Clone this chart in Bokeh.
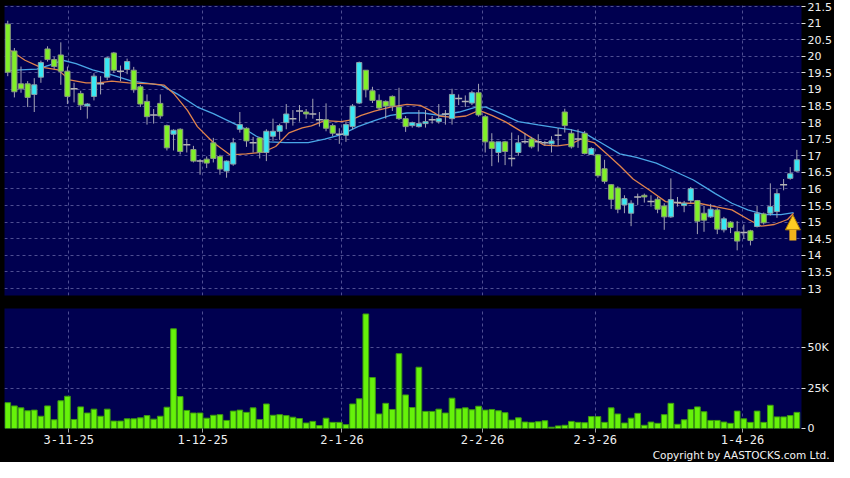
import numpy as np
from bokeh.plotting import figure
from bokeh.layouts import column
from bokeh.models import (Range1d, FixedTicker, NumeralTickFormatter, Grid, Title,
                          Arrow, NormalHead, ColumnDataSource)
from bokeh.embed import file_html
from bokeh.resources import INLINE

# ---------------- data ----------------
opens = [20.97, 20.16, 19.17, 19.17, 18.85, 19.37, 20.22, 19.90, 20.04, 19.55,
         19.02, 18.88, 18.50, 18.79, 19.17, 19.37, 20.10, 19.55, 19.60, 19.58,
         19.08, 18.64, 18.23, 18.58, 17.91, 17.65, 17.80, 17.33, 17.19, 16.84,
         16.90, 17.39, 16.98, 16.54, 16.75, 17.80, 17.83, 17.39, 17.54, 17.10,
         17.59, 17.74, 18.00, 18.12, 18.35, 18.32, 18.26, 18.09, 18.09, 17.91,
         17.65, 17.62, 17.88, 18.59, 19.58, 18.96, 18.67, 18.64, 18.79, 18.47,
         18.12, 17.91, 17.88, 17.97, 18.09, 18.03, 18.26, 18.12, 18.73, 18.64,
         18.59, 18.90, 18.18, 17.42, 17.10, 17.42, 16.92, 17.10, 17.42, 17.51,
         17.42, 17.39, 17.36, 17.62, 18.32, 17.68, 17.51, 17.68, 17.04, 17.03,
         16.61, 16.13, 16.03, 15.52, 15.27, 15.76, 15.81, 15.62, 15.69, 15.49,
         15.16, 15.59, 15.50, 15.65, 15.65, 15.27, 15.16, 15.37, 14.77, 15.00,
         14.71, 14.69, 14.74, 14.87, 15.25, 15.27, 15.32, 16.13, 16.32, 16.54]

highs = [21.07, 20.25, 19.69, 19.25, 19.34, 19.87, 20.30, 19.98, 20.42, 19.69,
         19.20, 18.96, 18.59, 19.49, 19.40, 19.98, 20.13, 19.72, 19.93, 19.68,
         19.14, 18.85, 18.41, 18.85, 17.94, 17.80, 17.83, 17.51, 17.30, 16.90,
         16.98, 17.54, 17.03, 16.86, 17.54, 18.32, 17.86, 17.57, 17.57, 17.80,
         18.12, 17.97, 18.56, 18.38, 18.53, 18.41, 18.72, 18.32, 18.58, 17.97,
         17.83, 18.03, 18.56, 19.84, 19.58, 19.08, 18.85, 18.67, 18.82, 19.05,
         18.20, 18.03, 18.38, 18.38, 18.20, 18.56, 18.38, 19.02, 18.85, 18.82,
         18.96, 19.17, 18.23, 17.68, 17.42, 17.45, 17.70, 17.62, 17.68, 17.57,
         17.65, 17.45, 17.59, 17.84, 18.42, 17.80, 17.80, 17.75, 17.26, 17.05,
         16.88, 16.15, 16.08, 15.81, 15.66, 15.86, 15.86, 15.81, 15.76, 15.57,
         16.32, 15.76, 15.64, 16.06, 15.67, 15.49, 15.55, 15.42, 15.16, 15.03,
         15.03, 14.93, 14.77, 15.49, 15.29, 16.17, 16.01, 16.30, 16.66, 17.18]

lows = [19.40, 18.76, 18.90, 18.47, 18.32, 19.20, 19.84, 19.62, 19.14, 18.56,
        18.61, 18.38, 18.12, 18.67, 18.85, 19.28, 19.50, 19.25, 19.46, 18.90,
        18.47, 17.94, 17.97, 18.12, 17.16, 17.16, 17.04, 17.10, 16.80, 16.43,
        16.63, 16.80, 16.43, 16.34, 16.70, 17.70, 17.27, 17.10, 16.92, 16.84,
        17.45, 17.48, 17.80, 17.91, 18.03, 18.12, 18.12, 17.88, 17.74, 17.59,
        17.36, 17.42, 17.80, 18.56, 18.76, 18.59, 18.38, 18.12, 18.35, 18.08,
        17.72, 17.85, 17.85, 17.85, 17.97, 17.97, 17.94, 17.94, 18.53, 18.47,
        18.53, 18.18, 17.10, 16.69, 16.80, 16.72, 16.68, 17.00, 17.36, 17.22,
        17.13, 17.30, 17.10, 17.30, 17.70, 17.22, 17.24, 17.04, 17.02, 16.34,
        16.16, 15.40, 15.27, 15.27, 14.88, 15.52, 15.59, 15.47, 15.27, 14.77,
        15.13, 15.47, 15.30, 15.57, 14.64, 14.71, 15.13, 14.64, 14.69, 14.67,
        14.15, 14.49, 14.30, 14.84, 14.93, 15.20, 15.13, 15.96, 16.28, 16.51]

closes = [19.52, 18.93, 19.02, 18.76, 19.14, 19.81, 19.90, 19.69, 19.55, 18.79,
          19.02, 18.53, 18.56, 19.40, 19.17, 19.95, 19.58, 19.55, 19.84, 18.99,
          18.56, 18.18, 18.23, 18.20, 17.24, 17.77, 17.13, 17.33, 16.84, 16.84,
          16.78, 16.92, 16.60, 16.84, 17.39, 17.94, 17.45, 17.39, 17.10, 17.74,
          17.74, 17.91, 18.26, 18.12, 18.35, 18.26, 18.26, 18.09, 17.83, 17.68,
          17.65, 17.94, 18.50, 19.81, 18.99, 18.67, 18.44, 18.50, 18.50, 18.12,
          17.88, 18.00, 17.97, 18.03, 18.09, 18.12, 18.26, 18.85, 18.73, 18.64,
          18.90, 18.23, 17.42, 17.22, 17.42, 17.13, 16.92, 17.39, 17.42, 17.27,
          17.42, 17.39, 17.45, 17.62, 17.91, 17.27, 17.51, 17.07, 17.22, 16.40,
          16.23, 15.69, 15.39, 15.71, 15.57, 15.76, 15.76, 15.62, 15.39, 15.16,
          15.68, 15.59, 15.57, 16.01, 15.03, 15.06, 15.39, 14.79, 15.10, 14.84,
          14.43, 14.69, 14.45, 15.27, 14.98, 15.47, 15.86, 16.13, 16.46, 16.88]

volumes = [16000, 14000, 12800, 11000, 11400, 7600, 14000, 5400, 17200, 20000,
           5600, 13400, 9600, 12000, 7600, 12000, 4600, 4600, 6000, 6000,
           6600, 8000, 5800, 7600, 13200, 61800, 19800, 11200, 9600, 9600,
           6400, 8200, 8600, 5000, 10800, 11400, 10000, 12800, 5600, 15200,
           8200, 8600, 8000, 7000, 6200, 3400, 4400, 1800, 6400, 3800,
           3800, 2400, 15200, 18400, 71000, 31600, 9000, 15600, 11800, 46400,
           20800, 13000, 38000, 10600, 10600, 12000, 9600, 18800, 12200, 12800,
           11600, 13800, 11400, 11800, 11000, 9800, 5200, 6600, 4000, 3800,
           4200, 4800, 800, 1600, 2000, 4400, 3800, 3600, 7400, 7400,
           3800, 12800, 9000, 3400, 6400, 9400, 2000, 4000, 3200, 8600,
           15600, 2600, 5400, 11800, 13400, 10400, 5000, 5000, 4000, 3200,
           10800, 6000, 3800, 10800, 3800, 14400, 7200, 7200, 8000, 10000]

# moving averages (bar index, price)
ma_short_x = [-0.3, 2.6, 4.8, 7.6, 9.3, 11.8, 13.7, 15.7, 18.2, 21.7, 23.6, 25.1, 27.1,
              28.6, 31.0, 33.5, 36.0, 38.5, 40.4, 42.4, 44.4, 45.8, 47.8, 50.3, 51.8,
              53.3, 55.3, 57.7, 60.2, 62.2, 63.7, 65.1, 67.1, 69.1, 71.1, 73.0, 75.0,
              77.0, 79.0, 80.9, 82.9, 84.9, 86.4, 88.4, 90.4, 92.3, 94.3, 96.8, 99.2,
              101.7, 104.2, 106.7, 109.2, 111.7, 113.6, 115.6, 117.6, 118.5]
ma_short_y = [20.27, 19.88, 19.68, 19.59, 19.29, 19.20, 19.20, 19.25, 19.20, 19.17, 19.13,
              18.86, 18.37, 17.88, 17.40, 17.03, 17.06, 17.11, 17.28, 17.69, 17.84, 17.90,
              18.06, 18.03, 18.08, 18.22, 18.35, 18.47, 18.55, 18.52, 18.37, 18.20, 18.16,
              18.20, 18.37, 18.22, 18.03, 17.79, 17.54, 17.32, 17.30, 17.35, 17.50, 17.40,
              17.05, 16.70, 16.30, 15.96, 15.62, 15.57, 15.57, 15.47, 15.37, 15.08, 14.88,
              14.93, 15.08, 15.27]

ma_long_x = [-0.3, 1.9, 4.4, 6.3, 8.3, 10.3, 12.8, 15.7, 18.7, 23.1, 25.6, 28.6, 31.0,
             33.5, 35.5, 37.5, 39.5, 41.9, 45.3, 47.8, 50.3, 52.8, 55.3, 57.7, 60.2,
             62.7, 65.1, 68.1, 70.6, 72.1, 75.0, 77.0, 80.0, 82.9, 84.9, 86.9, 89.4,
             92.3, 94.8, 97.8, 100.7, 103.4, 105.2, 106.7, 109.2, 111.6, 114.1, 116.6,
             118.5]
ma_long_y = [19.56, 19.59, 19.61, 19.73, 19.88, 19.78, 19.59, 19.44, 19.25, 19.13, 18.86,
             18.47, 18.27, 18.03, 17.84, 17.59, 17.42, 17.40, 17.40, 17.50, 17.64, 17.88,
             18.06, 18.22, 18.29, 18.29, 18.22, 18.32, 18.47, 18.47, 18.22, 18.03, 17.93,
             17.84, 17.79, 17.69, 17.40, 17.06, 16.95, 16.78, 16.52, 16.27, 16.05, 15.86,
             15.57, 15.37, 15.23, 15.23, 15.29]

tick_pos = [9.2, 29.4, 50.4, 71.6, 88.6, 110.8]
tick_labels = ["3-11-25", "1-12-25", "2-1-26", "2-2-26", "2-3-26", "1-4-26"]
price_ticks = [13.0, 13.5, 14.0, 14.5, 15.0, 15.5, 16.0, 16.5, 17.0, 17.5,
               18.0, 18.5, 19.0, 19.5, 20.0, 20.5, 21.0, 21.5]
vol_ticks = [0, 25000, 50000]
vol_labels = ["0", "25K", "50K"]

arrow_x = 118.4
arrow_base = 14.45
arrow_tip = 15.22

# ---------------- styling ----------------
BG = "#000050"
GRID = "#6868a8"
GREEN = "#80F028"
CYAN = "#38E8F4"
FONT = "DejaVu Sans"
W = 834

idx = list(range(len(opens)))
o = np.array(opens); c = np.array(closes)
up = c > o
down = c < o
doji = c == o

src_all = ColumnDataSource(dict(x=idx, o=opens, h=highs, l=lows, c=closes, v=volumes))
src_up = ColumnDataSource(dict(x=np.array(idx)[up], o=o[up], c=c[up]))
src_dn = ColumnDataSource(dict(x=np.array(idx)[down], o=o[down], c=c[down]))
src_dj = ColumnDataSource(dict(x=np.array(idx)[doji], c=c[doji]))

x_range = Range1d(-0.49, 119.7)


def style(p):
    p.background_fill_color = BG
    p.border_fill_color = "black"
    p.outline_line_color = None
    p.yaxis.axis_line_color = None
    p.yaxis.major_tick_line_color = "#e0e0e0"
    p.yaxis.major_tick_out = 4
    p.yaxis.major_tick_in = 0
    p.yaxis.minor_tick_line_color = None
    p.yaxis.major_label_text_color = "#f0f0f0"
    p.yaxis.major_label_text_font = FONT
    p.yaxis.major_label_text_font_size = "11px"
    p.yaxis.major_label_standoff = 2
    p.ygrid.grid_line_color = GRID
    p.ygrid.grid_line_dash = "3 3"
    p.ygrid.grid_line_alpha = 0.75
    vg = Grid(dimension=0, ticker=FixedTicker(ticks=tick_pos),
              grid_line_color=GRID, grid_line_dash="3 3", grid_line_alpha=0.75)
    p.add_layout(vg)


# ---------------- price panel ----------------
p1 = figure(width=W, height=298, output_backend="svg", toolbar_location=None,
            x_range=x_range, y_range=Range1d(12.79, 21.53),
            x_axis_location=None, y_axis_location="right",
            min_border_left=4, min_border_right=31, min_border_top=5, min_border_bottom=3)
for g in p1.xgrid:
    g.visible = False
style(p1)
p1.yaxis.ticker = FixedTicker(ticks=price_ticks)
p1.yaxis.formatter = NumeralTickFormatter(format="0.[0]")
p1.ygrid.ticker = FixedTicker(ticks=price_ticks)

p1.line(ma_long_x, ma_long_y, line_color="#4aa6e6", line_width=1.3)
p1.line(ma_short_x, ma_short_y, line_color="#e0834c", line_width=1.3)

p1.segment(x0="x", y0="l", x1="x", y1="h", source=src_all, line_color="#a4a4b4", line_width=1)
p1.vbar(x="x", bottom="o", top="c", width=0.78, source=src_up,
        fill_color=CYAN, line_color="#8aa0a8", line_width=1)
p1.vbar(x="x", bottom="c", top="o", width=0.78, source=src_dn,
        fill_color=GREEN, line_color="#8a9a80", line_width=1)
p1.scatter(x="x", y="c", source=src_dj, marker="dash", size=7,
           line_color="#b4b4b4", line_width=1.5)

p1.add_layout(Arrow(x_start=arrow_x, y_start=arrow_base, x_end=arrow_x, y_end=arrow_tip,
                    line_color="#f2b21c", line_width=7,
                    end=NormalHead(size=15, fill_color="#ffcc22", line_color="#b07a00",
                                   line_width=1)))

# ---------------- volume panel ----------------
p2 = figure(width=W, height=164, output_backend="svg", toolbar_location=None,
            x_range=x_range, y_range=Range1d(0, 74400), y_axis_location="right",
            min_border_left=4, min_border_right=31, min_border_top=10, min_border_bottom=34)
for g in p2.xgrid:
    g.visible = False
style(p2)
p2.yaxis.ticker = FixedTicker(ticks=vol_ticks)
p2.yaxis.major_label_overrides = dict(zip(vol_ticks, vol_labels))
p2.ygrid.ticker = FixedTicker(ticks=[25000, 50000])

p2.xaxis.ticker = FixedTicker(ticks=tick_pos)
p2.xaxis.major_label_overrides = dict(zip(tick_pos, tick_labels))
p2.xaxis.axis_line_color = None
p2.xaxis.major_tick_line_color = "#a0a0a0"
p2.xaxis.major_tick_out = 4
p2.xaxis.major_tick_in = 0
p2.xaxis.minor_tick_line_color = None
p2.xaxis.major_label_text_color = "#f0f0f0"
p2.xaxis.major_label_text_font = "DejaVu Sans Mono"
p2.xaxis.major_label_text_font_size = "12px"
p2.xaxis.major_label_standoff = 2

p2.vbar(x="x", top="v", bottom=0, width=0.86, source=src_all,
        fill_color="#66f20a", line_color="#3c9a10", line_width=1)

p2.add_layout(Title(text="Copyright by AASTOCKS.com Ltd.", align="right",
                    text_color="#f4f4f4", text_font=FONT, text_font_size="10.5px",
                    text_font_style="normal", standoff=0, offset=-28), "below")

layout = column(p1, p2, spacing=0)
layout.styles = {"background-color": "black"}

open("out.html", "w").write(file_html(layout, INLINE))
